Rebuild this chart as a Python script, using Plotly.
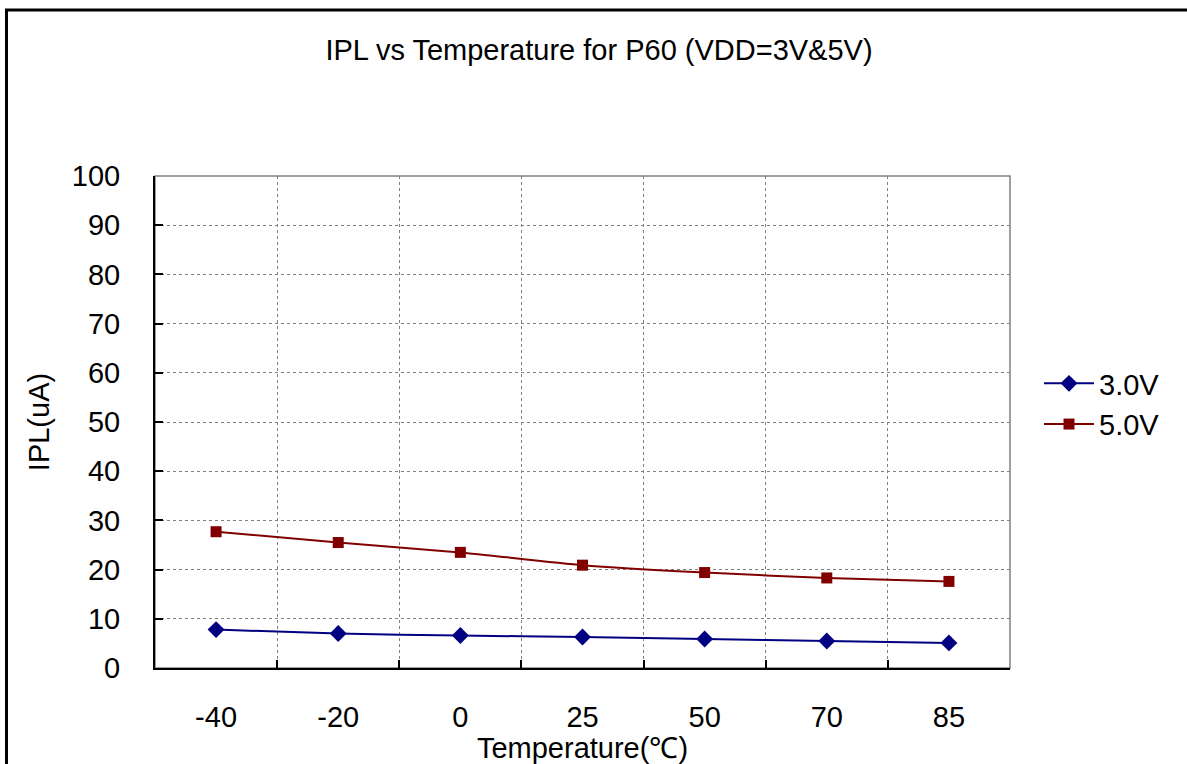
import plotly.graph_objects as go

temps = ["-40", "-20", "0", "25", "50", "70", "85"]
ipl_3v = [7.8, 7.0, 6.6, 6.3, 5.9, 5.5, 5.1]
ipl_5v = [27.7, 25.5, 23.5, 20.9, 19.4, 18.3, 17.6]
y_ticks = [0, 10, 20, 30, 40, 50, 60, 70, 80, 90, 100]

FONT = "Liberation Sans, Arial, sans-serif"
FS = 29
W, H = 1187, 764
L, R, T, B = 155, 1010, 176, 668

fig = go.Figure()
fig.add_trace(go.Scatter(
    x=temps, y=ipl_3v, name="3.0V", mode="lines+markers",
    line=dict(color="#000080", width=2, shape="spline", smoothing=0.6),
    marker=dict(symbol="diamond", size=13, color="#000080"),
))
fig.add_trace(go.Scatter(
    x=temps, y=ipl_5v, name="5.0V", mode="lines+markers",
    line=dict(color="#800000", width=2, shape="spline", smoothing=0.6),
    marker=dict(symbol="square", size=11, color="#800000"),
))

pw, ph = R - L, B - T
def px(x):
    return (x - L) / pw
def py(y):
    return (B - y) / ph

fig.update_layout(
    width=W, height=H,
    margin=dict(l=L, r=W - R, t=T, b=H - B),
    paper_bgcolor="white", plot_bgcolor="white",
    font=dict(family=FONT, size=FS, color="black"),
    title=dict(text="IPL vs Temperature for P60 (VDD=3V&5V)", x=599 / W, xanchor="center",
               y=1 - 50 / H, yanchor="middle", font=dict(size=FS)),
    showlegend=True,
    legend=dict(x=px(1039), y=py(404), xanchor="left", yanchor="middle",
                font=dict(size=FS), bgcolor="rgba(0,0,0,0)", tracegroupgap=0,
                itemwidth=50),
    shapes=[
        dict(type="rect", xref="paper", yref="paper", x0=0, x1=1, y0=0, y1=1,
             line=dict(color="#808080", width=1.5), layer="below"),
        dict(type="rect", xref="paper", yref="paper",
             x0=px(6.5), x1=px(1250), y0=py(850), y1=py(10),
             line=dict(color="black", width=3)),
    ],
)

fig.update_xaxes(
    type="category", categoryorder="array", categoryarray=temps,
    range=[-0.5, 6.5], tickson="boundaries",
    showgrid=True, gridcolor="#808080", griddash="dot", gridwidth=1,
    showline=True, linecolor="black", linewidth=2,
    ticks="inside", ticklen=8, tickwidth=2, tickcolor="black",
    ticklabelstandoff=22,
    tickfont=dict(size=FS),
    title=dict(text="Temperature(℃)", standoff=0, font=dict(size=FS)),
    zeroline=False,
)
fig.update_yaxes(
    range=[0, 100], tickvals=y_ticks,
    showgrid=True, gridcolor="#808080", griddash="dot", gridwidth=1,
    showline=True, linecolor="black", linewidth=2,
    ticks="inside", ticklen=8, tickwidth=2, tickcolor="black",
    ticklabelstandoff=27,
    tickfont=dict(size=FS),
    title=dict(text="IPL(uA)", standoff=14, font=dict(size=FS)),
    zeroline=False,
)

fig.write_html("out.html", config={"displayModeBar": False},
               post_script="document.body.style.margin='0';document.body.style.overflow='hidden';")
